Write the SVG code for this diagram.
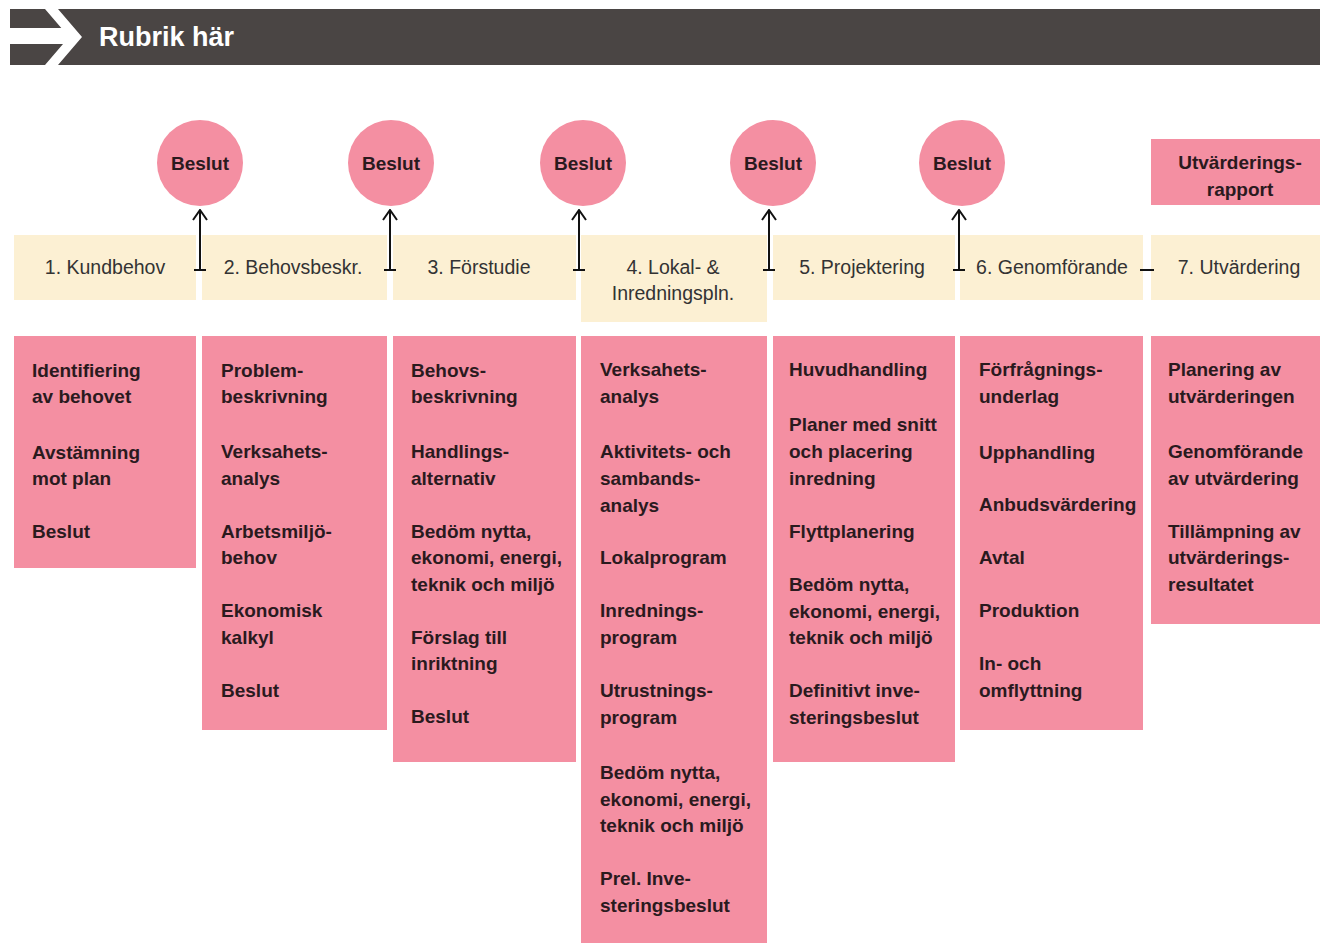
<svg xmlns="http://www.w3.org/2000/svg" width="1320" height="943" viewBox="0 0 1320 943">
<defs>
<style>
.stage{fill:#fcf0d3}
.pink{fill:#f48fa2}
.st{font-family:"Liberation Sans",Arial,sans-serif;font-size:19.5px;fill:#333;text-anchor:middle}
.bt{font-family:"Liberation Sans",Arial,sans-serif;font-size:19px;font-weight:bold;fill:#2a1a1e}
.ct{font-family:"Liberation Sans",Arial,sans-serif;font-size:19px;font-weight:bold;fill:#2a1a1e;text-anchor:middle}
.conn{stroke:#111;stroke-width:2;fill:none}
</style>
<marker id="ah" viewBox="0 0 12 16" refX="11" refY="8" markerWidth="12" markerHeight="16" markerUnits="userSpaceOnUse" orient="auto">
<path d="M1,1 L11,8 L1,15" stroke="#111" stroke-width="2" fill="none"/>
</marker>
</defs>
<rect width="1320" height="943" fill="#fff"/>
<g id="header">
<rect x="10" y="9" width="1310" height="56" fill="#4a4544"/>
<rect x="10" y="28" width="62" height="16" fill="#fff"/>
<path d="M45,9 L58,9 L82,37 L58,65 L45,65 L69,37 Z" fill="#fff"/>
<text x="99" y="46" font-family="Liberation Sans,Arial,sans-serif" font-size="27" font-weight="bold" fill="#fff">Rubrik här</text>
</g>
<g id="decisions">
<g id="beslut1"><circle cx="200" cy="163" r="43" class="pink"/><text x="200" y="170" class="ct">Beslut</text></g>
<g id="beslut2"><circle cx="391" cy="163" r="43" class="pink"/><text x="391" y="170" class="ct">Beslut</text></g>
<g id="beslut3"><circle cx="583" cy="163" r="43" class="pink"/><text x="583" y="170" class="ct">Beslut</text></g>
<g id="beslut4"><circle cx="773" cy="163" r="43" class="pink"/><text x="773" y="170" class="ct">Beslut</text></g>
<g id="beslut5"><circle cx="962" cy="163" r="43" class="pink"/><text x="962" y="170" class="ct">Beslut</text></g>
<g id="rapport"><rect x="1151" y="139" width="169" height="66" class="pink"/><text x="1240" y="169" class="ct">Utvärderings-</text><text x="1240" y="196" class="ct">rapport</text></g>
</g>
<g id="stages">
<g id="stage1"><rect x="14" y="235" width="182" height="65" class="stage"/><text x="105" y="274" class="st">1. Kundbehov</text></g>
<g id="stage2"><rect x="202" y="235" width="185" height="65" class="stage"/><text x="293" y="274" class="st">2. Behovsbeskr.</text></g>
<g id="stage3"><rect x="393" y="235" width="183" height="65" class="stage"/><text x="479" y="274" class="st">3. Förstudie</text></g>
<g id="stage4"><rect x="581" y="235" width="186" height="87" class="stage"/><text x="673" y="274" class="st">4. Lokal- &amp;</text><text x="673" y="300" class="st">Inredningspln.</text></g>
<g id="stage5"><rect x="773" y="235" width="182" height="65" class="stage"/><text x="862" y="274" class="st">5. Projektering</text></g>
<g id="stage6"><rect x="960" y="235" width="183" height="65" class="stage"/><text x="1052" y="274" class="st">6. Genomförande</text></g>
<g id="stage7"><rect x="1151" y="235" width="169" height="65" class="stage"/><text x="1239" y="274" class="st">7. Utvärdering</text></g>
</g>
<g id="connectors">
<line x1="200" y1="270" x2="200" y2="210" class="conn" marker-end="url(#ah)"/>
<line x1="194" y1="270" x2="206" y2="270" class="conn"/>
<line x1="390" y1="270" x2="390" y2="210" class="conn" marker-end="url(#ah)"/>
<line x1="384" y1="270" x2="396" y2="270" class="conn"/>
<line x1="579" y1="270" x2="579" y2="210" class="conn" marker-end="url(#ah)"/>
<line x1="573" y1="270" x2="585" y2="270" class="conn"/>
<line x1="769" y1="270" x2="769" y2="210" class="conn" marker-end="url(#ah)"/>
<line x1="763" y1="270" x2="775" y2="270" class="conn"/>
<line x1="959" y1="270" x2="959" y2="210" class="conn" marker-end="url(#ah)"/>
<line x1="953" y1="270" x2="965" y2="270" class="conn"/>
<line x1="1140" y1="270" x2="1154" y2="270" class="conn"/>
</g>
<g id="tasks">
<g id="tasks1"><rect x="14" y="336" width="182" height="232" class="pink"/>
<text class="bt" x="32" y="377">Identifiering</text>
<text class="bt" x="32" y="403">av behovet</text>
<text class="bt" x="32" y="459">Avstämning</text>
<text class="bt" x="32" y="485">mot plan</text>
<text class="bt" x="32" y="538">Beslut</text>
</g>
<g id="tasks2"><rect x="202" y="336" width="185" height="394" class="pink"/>
<text class="bt" x="221" y="377">Problem-</text>
<text class="bt" x="221" y="403">beskrivning</text>
<text class="bt" x="221" y="458">Verksahets-</text>
<text class="bt" x="221" y="485">analys</text>
<text class="bt" x="221" y="538">Arbetsmiljö-</text>
<text class="bt" x="221" y="564">behov</text>
<text class="bt" x="221" y="617">Ekonomisk</text>
<text class="bt" x="221" y="644">kalkyl</text>
<text class="bt" x="221" y="697">Beslut</text>
</g>
<g id="tasks3"><rect x="393" y="336" width="183" height="426" class="pink"/>
<text class="bt" x="411" y="377">Behovs-</text>
<text class="bt" x="411" y="403">beskrivning</text>
<text class="bt" x="411" y="458">Handlings-</text>
<text class="bt" x="411" y="485">alternativ</text>
<text class="bt" x="411" y="538">Bedöm nytta,</text>
<text class="bt" x="411" y="564">ekonomi, energi,</text>
<text class="bt" x="411" y="591">teknik och miljö</text>
<text class="bt" x="411" y="644">Förslag till</text>
<text class="bt" x="411" y="670">inriktning</text>
<text class="bt" x="411" y="723">Beslut</text>
</g>
<g id="tasks4"><rect x="581" y="336" width="186" height="607" class="pink"/>
<text class="bt" x="600" y="376">Verksahets-</text>
<text class="bt" x="600" y="403">analys</text>
<text class="bt" x="600" y="458">Aktivitets- och</text>
<text class="bt" x="600" y="485">sambands-</text>
<text class="bt" x="600" y="512">analys</text>
<text class="bt" x="600" y="564">Lokalprogram</text>
<text class="bt" x="600" y="617">Inrednings-</text>
<text class="bt" x="600" y="644">program</text>
<text class="bt" x="600" y="697">Utrustnings-</text>
<text class="bt" x="600" y="724">program</text>
<text class="bt" x="600" y="779">Bedöm nytta,</text>
<text class="bt" x="600" y="806">ekonomi, energi,</text>
<text class="bt" x="600" y="832">teknik och miljö</text>
<text class="bt" x="600" y="885">Prel. Inve-</text>
<text class="bt" x="600" y="912">steringsbeslut</text>
</g>
<g id="tasks5"><rect x="773" y="336" width="182" height="426" class="pink"/>
<text class="bt" x="789" y="376">Huvudhandling</text>
<text class="bt" x="789" y="431">Planer med snitt</text>
<text class="bt" x="789" y="458">och placering</text>
<text class="bt" x="789" y="485">inredning</text>
<text class="bt" x="789" y="538">Flyttplanering</text>
<text class="bt" x="789" y="591">Bedöm nytta,</text>
<text class="bt" x="789" y="618">ekonomi, energi,</text>
<text class="bt" x="789" y="644">teknik och miljö</text>
<text class="bt" x="789" y="697">Definitivt inve-</text>
<text class="bt" x="789" y="724">steringsbeslut</text>
</g>
<g id="tasks6"><rect x="960" y="336" width="183" height="394" class="pink"/>
<text class="bt" x="979" y="376">Förfrågnings-</text>
<text class="bt" x="979" y="403">underlag</text>
<text class="bt" x="979" y="459">Upphandling</text>
<text class="bt" x="979" y="511">Anbudsvärdering</text>
<text class="bt" x="979" y="564">Avtal</text>
<text class="bt" x="979" y="617">Produktion</text>
<text class="bt" x="979" y="670">In- och</text>
<text class="bt" x="979" y="697">omflyttning</text>
</g>
<g id="tasks7"><rect x="1151" y="336" width="169" height="288" class="pink"/>
<text class="bt" x="1168" y="376">Planering av</text>
<text class="bt" x="1168" y="403">utvärderingen</text>
<text class="bt" x="1168" y="458">Genomförande</text>
<text class="bt" x="1168" y="485">av utvärdering</text>
<text class="bt" x="1168" y="538">Tillämpning av</text>
<text class="bt" x="1168" y="564">utvärderings-</text>
<text class="bt" x="1168" y="591">resultatet</text>
</g>
</g>
</svg>
